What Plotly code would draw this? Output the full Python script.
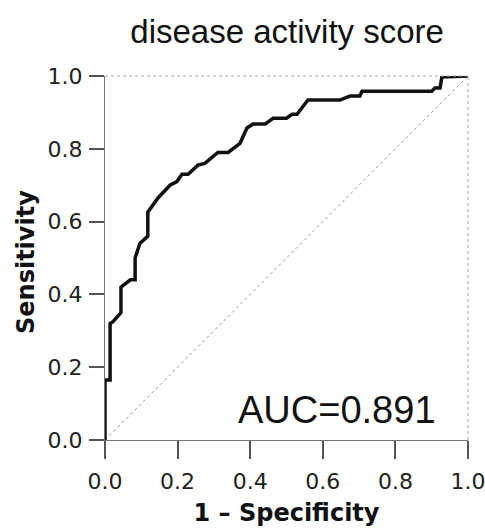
import plotly.graph_objects as go

# ROC curve vertices (1 - specificity, sensitivity)
fpr = [0.0, 0.0, 0.014, 0.014, 0.022, 0.036, 0.044, 0.044, 0.070, 0.083, 0.083,
       0.096, 0.118, 0.118, 0.146, 0.179, 0.198, 0.212, 0.229, 0.256, 0.275,
       0.311, 0.339, 0.372, 0.391, 0.408, 0.441, 0.463, 0.500, 0.515, 0.529,
       0.559, 0.647, 0.675, 0.702, 0.708, 0.900, 0.909, 0.923, 0.928, 1.0]
tpr = [0.0, 0.165, 0.165, 0.320, 0.325, 0.340, 0.350, 0.420, 0.440, 0.440, 0.500,
       0.540, 0.560, 0.626, 0.665, 0.700, 0.710, 0.730, 0.730, 0.755, 0.760,
       0.790, 0.790, 0.815, 0.857, 0.868, 0.868, 0.884, 0.884, 0.895, 0.895,
       0.934, 0.934, 0.945, 0.945, 0.958, 0.958, 0.967, 0.967, 0.997, 1.0]
ref_line = [0.0, 1.0]
tick_vals = [0.0, 0.2, 0.4, 0.6, 0.8, 1.0]
tick_text = ["0.0", "0.2", "0.4", "0.6", "0.8", "1.0"]
title_text = "disease activity score"
auc_text = "AUC=0.891"

fig = go.Figure()
fig.add_trace(go.Scatter(x=ref_line, y=ref_line, mode="lines",
                         line=dict(color="#999999", width=1, dash="dot"),
                         hoverinfo="skip", showlegend=False))
fig.add_trace(go.Scatter(x=fpr, y=tpr, mode="lines",
                         line=dict(color="#111111", width=3.5),
                         showlegend=False))

fig.add_annotation(x=0.64, y=0.082, xref="x", yref="y", text=auc_text,
                   showarrow=False, font=dict(family="Liberation Sans", size=38, color="#111"))

# y-axis title placed as a rotated annotation
fig.add_annotation(x=-0.2176, y=0.489, xref="paper", yref="paper",
                   text="<b>Sensitivity</b>", textangle=-90, showarrow=False,
                   xanchor="center", yanchor="middle",
                   font=dict(family="DejaVu Sans", size=24, color="#111"))

# dotted top and right frame
fig.add_shape(type="line", xref="paper", yref="paper", x0=0, y0=1, x1=1, y1=1,
              line=dict(color="#aaaaaa", width=1, dash="dot"))
fig.add_shape(type="line", xref="paper", yref="paper", x0=1, y0=0, x1=1, y1=1,
              line=dict(color="#aaaaaa", width=1, dash="dot"))

axis_common = dict(range=[0, 1], tickvals=tick_vals, ticktext=tick_text,
                   showgrid=False, zeroline=False, showline=True,
                   linecolor="#777777", linewidth=1.2,
                   ticks="outside", tickwidth=1.5, tickcolor="#555555",
                   ticklabeloverflow="allow", automargin=False,
                   tickfont=dict(family="DejaVu Sans", size=22, color="#222"))

fig.update_layout(
    width=485, height=528,
    margin=dict(l=105, r=17, t=76, b=88),
    paper_bgcolor="white", plot_bgcolor="white",
    title=dict(text=title_text, x=0.592, xanchor="center", y=0.94, yanchor="middle",
               font=dict(family="Liberation Sans", size=33, color="#111")),
    xaxis=dict(**axis_common, ticklen=18, ticklabelstandoff=3,
               title=dict(text="<b>1 – Specificity</b>", standoff=11,
                          font=dict(family="DejaVu Sans", size=24, color="#111"))),
    yaxis=dict(**axis_common, ticklen=15, ticklabelstandoff=2),
)

fig.write_html("out.html", config={"displayModeBar": False},
               post_script="document.body.style.margin='0px';")
